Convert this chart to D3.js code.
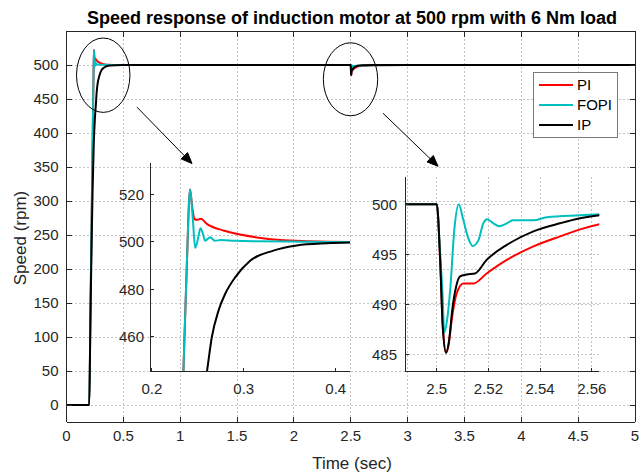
<!DOCTYPE html>
<html><head><meta charset="utf-8">
<script src="https://cdn.jsdelivr.net/npm/d3@7"></script>
<style>
html,body{margin:0;padding:0;background:#fff;}
text{font-family:"Liberation Sans",Arial,Helvetica,sans-serif;fill:#262626;}
</style></head>
<body>
<svg id="chart" width="643" height="472"></svg>
<script>
// ---------------- DATA ----------------
const seriesNames = ["PI", "FOPI", "IP"];
const seriesColors = ["#ff0000", "#00bfbf", "#000000"];

const piTime = [0,0.2,0.21,0.22,0.23,0.2343,0.238,0.2416,0.2435,0.2463,0.2489,0.2533,0.2598,0.2778,0.296,0.3141,0.3395,0.3685,0.4155,0.45,0.5,
  2.5,2.5013,2.5023,2.5036,2.5046,2.5058,2.5077,2.5103,2.5142,2.5193,2.5271,2.5374,2.5477,2.5555,2.563,2.6,2.7,3,5];
const piSpeed = [0,0,130,260,390,445,490,522,516,509.7,509.3,509.7,507.6,504.8,503.1,501.9,500.8,500.3,500,500,500,
  500,494.5,488,485.2,486,488.5,491.1,492.1,492.1,493.1,494.45,495.8,496.8,497.5,498,499,499.7,500,500];

const fopiTime = [0,0.2,0.21,0.22,0.23,0.2343,0.238,0.2416,0.2445,0.2471,0.25,0.2528,0.2555,0.2579,0.2605,0.2634,0.266,0.2688,0.275,0.29,0.31,0.35,0.4,0.5,
  2.5,2.5013,2.5022,2.5029,2.504,2.5052,2.5068,2.5085,2.5103,2.5122,2.5139,2.5161,2.518,2.5195,2.5219,2.5242,2.5271,2.5294,2.5374,2.5426,2.5555,2.563,2.6,2.7,3,5];
const fopiSpeed = [0,0,130,260,390,445,490,522,510,497.5,501,505.7,503.5,500.5,501.2,502,501.2,500.5,500.8,500.5,500.3,500.2,500,500,
  500,495,491.2,487.2,488.5,491.5,497.5,500,498.4,496.6,495.85,496.4,498.1,498.5,498.1,497.8,498.1,498.4,498.4,498.7,498.9,499,499.4,499.8,500,500];

const ipTime = [0,0.2,0.21,0.22,0.23,0.24,0.25,0.2598,0.2652,0.2725,0.2797,0.2906,0.3069,0.3322,0.3576,0.3902,0.43,0.5,
  2.5,2.5013,2.5023,2.5036,2.5048,2.506,2.5075,2.509,2.5116,2.5148,2.5193,2.5271,2.5374,2.5477,2.5555,2.563,2.6,2.7,3,5];
const ipSpeed = [0,0,120,230,320,385,422,445.1,459.9,471.1,478.1,485.1,492.1,496.35,498.5,499.4,499.8,500,
  500,494.5,487.8,485.2,486.5,489.5,491.8,492.8,493.0,493.1,494.45,495.95,497.3,498.1,498.6,498.9,499.5,499.9,500,500];

const mainXTicks = [0,0.5,1,1.5,2,2.5,3,3.5,4,4.5,5];
const mainYTicks = [0,50,100,150,200,250,300,350,400,450,500];
const inset1XTicks = [0.2,0.3,0.4];
const inset1YTicks = [460,480,500,520];
const inset2XTicks = [2.5,2.52,2.54,2.56];
const inset2YTicks = [485,490,495,500];

const titleText = "Speed response of induction motor at 500 rpm with 6 Nm load";
const xLabelText = "Time (sec)";
const yLabelText = "Speed (rpm)";

// ---------------- BUILD ----------------
const series = [
  {name: seriesNames[0], color: seriesColors[0], pts: piTime.map((t,i)=>[t, piSpeed[i]])},
  {name: seriesNames[1], color: seriesColors[1], pts: fopiTime.map((t,i)=>[t, fopiSpeed[i]])},
  {name: seriesNames[2], color: seriesColors[2], pts: ipTime.map((t,i)=>[t, ipSpeed[i]])}
];

const svg = d3.select("#chart");
const axisColor = "#262626";
const gridColor = "#c4c4c4";

function drawAxesBox(g, x, y, opts){
  const [x0,x1] = x.range(), [yb,yt] = y.range();
  const id = opts.id;
  g.append("clipPath").attr("id", id).append("rect")
    .attr("x", x0).attr("y", yt).attr("width", x1-x0).attr("height", yb-yt);
  if (opts.grid){
    const gg = g.append("g").attr("stroke", gridColor).attr("stroke-width", 1).attr("stroke-dasharray", "2,2").attr("shape-rendering","crispEdges");
    opts.xTicks.forEach(t=>gg.append("line").attr("x1", x(t)).attr("x2", x(t)).attr("y1", yt).attr("y2", yb));
    opts.yTicks.forEach(v=>gg.append("line").attr("x1", x0).attr("x2", x1).attr("y1", y(v)).attr("y2", y(v)));
  }
  const line = d3.line().x(d=>x(d[0])).y(d=>y(d[1])).curve(d3.curveMonotoneX);
  const lg = g.append("g").attr("clip-path", `url(#${id})`);
  series.forEach(s=>{
    lg.append("path").attr("d", line(s.pts)).attr("fill","none")
      .attr("stroke", s.color).attr("stroke-width", 2).attr("stroke-linejoin","round");
  });
  const ag = g.append("g").attr("stroke", axisColor).attr("stroke-width", 1).attr("fill","none").attr("shape-rendering","crispEdges");
  const tl = opts.tickLen;
  ag.append("line").attr("x1", x0).attr("x2", x0).attr("y1", yt).attr("y2", yb);
  ag.append("line").attr("x1", x0).attr("x2", x1).attr("y1", yb).attr("y2", yb);
  if (opts.box){
    ag.append("line").attr("x1", x1).attr("x2", x1).attr("y1", yt).attr("y2", yb);
    ag.append("line").attr("x1", x0).attr("x2", x1).attr("y1", yt).attr("y2", yt);
  }
  opts.xTicks.forEach(t=>{
    ag.append("line").attr("x1", x(t)).attr("x2", x(t)).attr("y1", yb).attr("y2", yb-tl);
    if (opts.box) ag.append("line").attr("x1", x(t)).attr("x2", x(t)).attr("y1", yt).attr("y2", yt+tl);
  });
  opts.yTicks.forEach(v=>{
    ag.append("line").attr("x1", x0).attr("x2", x0+tl).attr("y1", y(v)).attr("y2", y(v));
    if (opts.box) ag.append("line").attr("x1", x1).attr("x2", x1-tl).attr("y1", y(v)).attr("y2", y(v));
  });
  const fmt = opts.fmt;
  const tg = g.append("g").style("font-size", opts.fontSize+"px");
  opts.xTicks.forEach(t=>{
    tg.append("text").attr("x", x(t)).attr("y", yb + opts.xLabelOff).attr("text-anchor","middle").text(fmt(t));
  });
  opts.yTicks.forEach(v=>{
    tg.append("text").attr("x", x0 - opts.yLabelOff).attr("y", y(v)).attr("dy","0.35em").attr("text-anchor","end").text(v);
  });
}

// Main axes
const xMain = d3.scaleLinear().domain([0,5]).range([66.5,635]);
const yMain = d3.scaleLinear().domain([-25,550]).range([422,31]);
const gMain = svg.append("g");
drawAxesBox(gMain, xMain, yMain, {id:"clipMain", grid:true, box:true, xTicks:mainXTicks, yTicks:mainYTicks,
  tickLen:5.5, fmt:d=>String(d), fontSize:15, xLabelOff:19, yLabelOff:8});

// Title and labels
svg.append("text").attr("x", 352).attr("y", 24).attr("text-anchor","middle")
  .style("font-size","18px").style("font-weight","bold").style("fill","#000").text(titleText);
svg.append("text").attr("x", 352).attr("y", 469).attr("text-anchor","middle")
  .style("font-size","17px").text(xLabelText);
svg.append("text").attr("transform","translate(26,238) rotate(-90)").attr("text-anchor","middle")
  .style("font-size","17px").text(yLabelText);

// Legend
const lgd = svg.append("g");
lgd.append("rect").attr("x",533.5).attr("y",72.5).attr("width",84).attr("height",65)
  .attr("fill","#fff").attr("stroke","#7a7a7a").attr("stroke-width",1);
series.forEach((s,i)=>{
  const yy = 85 + i*20;
  lgd.append("line").attr("x1",539).attr("x2",573).attr("y1",yy).attr("y2",yy)
    .attr("stroke", s.color).attr("stroke-width",2);
  lgd.append("text").attr("x",577).attr("y",yy).attr("dy","0.35em").style("font-size","15px").style("fill","#000").text(s.name);
});

// Annotations: ellipses and arrows (in main data coordinates)
const ann = svg.append("g").attr("fill","none").attr("stroke","#000").attr("stroke-width",1);
const ellipses = [{t:0.323, v:485, rt:0.235, rv:54.7}, {t:2.498, v:479, rt:0.239, rv:53.7}];
ellipses.forEach(e=>{
  ann.append("ellipse").attr("cx", xMain(e.t)).attr("cy", yMain(e.v))
    .attr("rx", xMain(e.t+e.rt)-xMain(e.t)).attr("ry", yMain(e.v)-yMain(e.v+e.rv));
});
const arrows = [{t0:0.62, v0:438, t1:1.104, v1:355}, {t0:2.784, v0:429, t1:3.268, v1:351}];
arrows.forEach(a=>{
  const x0 = xMain(a.t0), y0 = yMain(a.v0), x1 = xMain(a.t1), y1 = yMain(a.v1);
  const ang = Math.atan2(y1-y0, x1-x0);
  const L = 11, Wd = 4.5;
  const bx = x1 - L*Math.cos(ang), by = y1 - L*Math.sin(ang);
  ann.append("line").attr("x1",x0).attr("y1",y0).attr("x2",bx).attr("y2",by);
  const px = -Math.sin(ang), py = Math.cos(ang);
  ann.append("path").attr("d", `M${x1},${y1}L${bx+px*Wd},${by+py*Wd}L${bx-px*Wd},${by-py*Wd}Z`)
    .attr("fill","#000").attr("stroke","#000");
});

// Inset 1
const xIn1 = d3.scaleLinear().domain([0.198,0.4155]).range([150,350]);
const yIn1 = d3.scaleLinear().domain([445.4,533.2]).range([371.7,163]);
drawAxesBox(svg.append("g"), xIn1, yIn1, {id:"clipIn1", grid:false, box:false, xTicks:inset1XTicks, yTicks:inset1YTicks,
  tickLen:4, fmt:d3.format(".1f"), fontSize:15, xLabelOff:22, yLabelOff:6});

// Inset 2
const xIn2 = d3.scaleLinear().domain([2.4877,2.5629]).range([405,599.3]);
const yIn2 = d3.scaleLinear().domain([483.3,502.75]).range([371.7,176.7]);
drawAxesBox(svg.append("g"), xIn2, yIn2, {id:"clipIn2", grid:true, box:false, xTicks:inset2XTicks, yTicks:inset2YTicks,
  tickLen:4, fmt:d=>String(d), fontSize:15, xLabelOff:22, yLabelOff:8});
</script>
</body></html>
